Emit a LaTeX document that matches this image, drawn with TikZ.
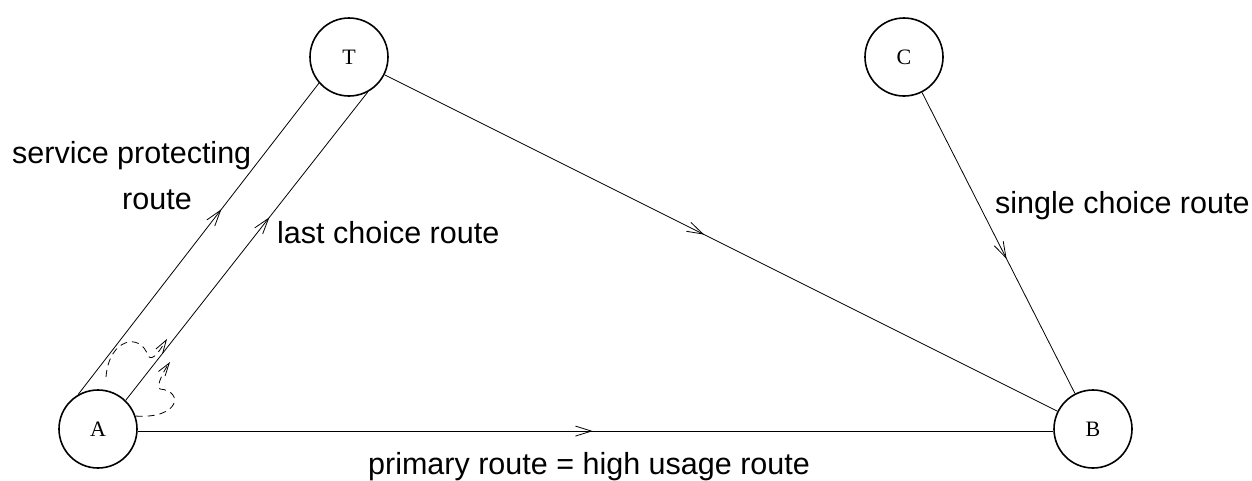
\documentclass[tikz,border=0pt]{standalone}
\usepackage{fontspec}
\setmainfont{Liberation Sans}
\newfontfamily\serifnode{Liberation Serif}
\usetikzlibrary{arrows.meta,decorations.markings}
\begin{document}
\begin{tikzpicture}[x=1pt,y=-1pt,
  station/.style={circle, draw, line width=1.6pt, minimum size=78pt, inner sep=0pt,
    font=\serifnode\fontsize{22}{26}\selectfont},
  route/.style={line width=0.8pt},
  midarrow/.style={postaction={decorate}, decoration={markings,
    mark=at position #1 with {\arrow{Straight Barb[length=16pt,width=10pt,line width=0.8pt]}}}},
  lab/.style={font=\fontsize{30.5}{36}\selectfont, anchor=base west, inner sep=0pt},
  overflow/.style={line width=0.8pt, dash pattern=on 7pt off 5pt,
    -{Straight Barb[length=13pt,width=8pt,line width=0.8pt]}},
]
\useasboundingbox (0,0) rectangle (1252,480);

\node[station] (A) at (98,429) {A};
\node[station] (T) at (349,57) {T};
\node[station] (C) at (904,57) {C};
\node[station] (B) at (1093,429) {B};

% routes
\draw[route, midarrow=0.595] (A.120) -- (T.221);
\draw[route, midarrow=0.594] (A.46) -- (T.298);
\draw[route, midarrow=0.475] (T) -- (B);
\draw[route, midarrow=0.553] (C) -- (B);
\draw[route, midarrow=0.497] (A.-3) -- (B.183);

% overflow (dashed) arrows
\coordinate (o1s) at (106,377);
\coordinate (o1m) at (148,356);
\coordinate (o1e) at (167,339);
\draw[overflow] (o1s) .. controls (109,338) and (141,332) .. (o1m)
   .. controls (153,362) and (160,350) .. (o1e);
\coordinate (o2m) at (160,389);
\coordinate (o2e) at (170,362);
\draw[overflow] (A.19) .. controls (180,419) and (184,391) .. (o2m)
   .. controls (156,386) and (163,372) .. (o2e);

% labels
\node[lab] (l1) at (12,163) {service protecting};
\node[lab] (l2) at (122,209) {route};
\node[lab] (l3) at (277,243) {last choice route};
\node[lab] (l4) at (995,213) {single choice route};
\node[lab] (l5) at (368,474) {primary route = high usage route};
\end{tikzpicture}
\end{document}
